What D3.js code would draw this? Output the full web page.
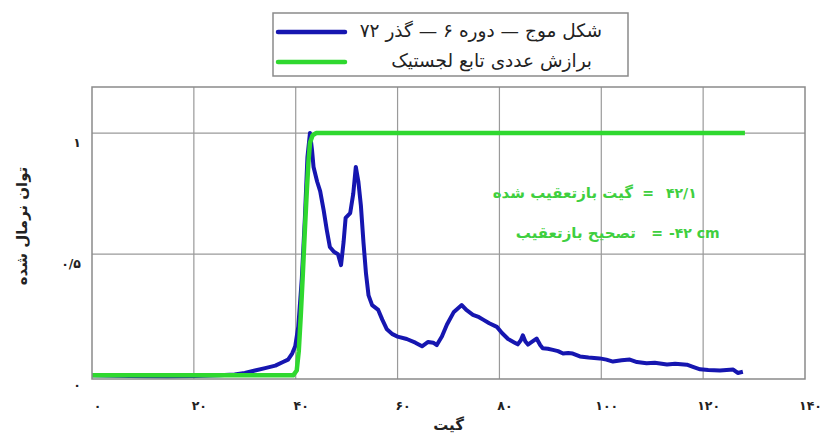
<!DOCTYPE html>
<html><head><meta charset="utf-8">
<script src="https://cdn.jsdelivr.net/npm/d3@7"></script>
<style>
html,body{margin:0;padding:0;background:#fff;}
svg{display:block;}
text{font-family:"DejaVu Sans",sans-serif;}
</style></head>
<body>
<script>
// ---- data ----
const waveX = [0,5,10,15,20,25,28,30,32,34,36,37.5,38.5,39.3,39.9,40.5,41.2,41.8,42.3,42.8,43.2,43.5,44.2,44.8,45.5,46.1,46.7,47.5,48.3,48.9,49.4,49.8,50.7,51.3,51.8,52.3,52.8,53.3,53.8,54.3,55,56.2,57,57.9,59,60,61.8,63.5,64.8,66,67,67.7,68.7,69.7,71,72.6,73.5,74.8,76,76.8,78,79.5,80.5,81.7,83,83.6,84.2,84.6,85.1,85.6,86.5,87.3,88,88.5,89.5,90.5,91.5,92.5,93.5,94.4,95.8,97.5,99.7,101,102.3,104,105.6,107,108.9,110.5,112.9,114.5,116.8,118,119.4,121,123.3,125.9,126.8,127.8];
const waveY = [0,-0.002,-0.004,-0.005,-0.003,0,0.004,0.01,0.02,0.03,0.04,0.055,0.065,0.09,0.12,0.2,0.4,0.65,0.9,1.0,0.93,0.86,0.8,0.76,0.68,0.6,0.53,0.51,0.5,0.455,0.55,0.65,0.67,0.75,0.86,0.8,0.7,0.55,0.42,0.33,0.29,0.27,0.23,0.19,0.17,0.16,0.15,0.135,0.12,0.138,0.135,0.125,0.16,0.21,0.26,0.29,0.27,0.25,0.24,0.23,0.215,0.2,0.175,0.15,0.135,0.128,0.145,0.165,0.14,0.127,0.14,0.152,0.125,0.112,0.11,0.105,0.1,0.09,0.092,0.09,0.078,0.074,0.07,0.065,0.057,0.062,0.065,0.055,0.05,0.052,0.045,0.048,0.044,0.035,0.025,0.022,0.02,0.024,0.01,0.015];
const fitX = [0,39.5,40.2,40.6,41.0,41.4,41.8,42.2,42.5,42.8,43.3,44,128.2];
const fitY = [0,0,0.02,0.1,0.25,0.42,0.6,0.77,0.88,0.96,0.99,1,1];
const xTicks = [0,20,40,60,80,100,120,140];
const xTickLabels = ["۰","۲۰","۴۰","۶۰","۸۰","۱۰۰","۱۲۰","۱۴۰"];
const yTicks = [0,0.5,1];
const yTickLabels = ["۰","۰/۵","۱"];
const seriesNames = ["شکل موج — دوره ۶ — گذر ۷۲","برازش عددی تابع لجستیک"];
const xTitle = "گیت";
const yTitle = "توان نرمال شده";
const note1 = ["گیت بازتعقیب شده","=","۴۲/۱"];
const note2 = ["تصحیح بازتعقیب","=","-۴۲ cm"];

// ---- layout ----
const W = 828, H = 437;
const L = 92, R = 805, T = 87, B = 379;
const blue = "#1616b0", green = "#2fd82f", noteGreen = "#3fcf3f";

const svg = d3.select("body").append("svg").attr("width", W).attr("height", H);
const x = d3.scaleLinear().domain([0,140]).range([L,R]);
const y = d3.scaleLinear().domain([-0.015,1.19]).range([B,T]);

// grid
const g = svg.append("g");
g.selectAll("line.vg").data(xTicks.filter(d=>d>0 && d<140)).enter().append("line")
  .attr("x1",d=>x(d)).attr("x2",d=>x(d)).attr("y1",T).attr("y2",B)
  .attr("stroke","#9a9a9a").attr("stroke-width",1.2);
g.selectAll("line.hg").data(yTicks.filter(d=>d>0)).enter().append("line")
  .attr("x1",L).attr("x2",R).attr("y1",d=>y(d)).attr("y2",d=>y(d))
  .attr("stroke","#9a9a9a").attr("stroke-width",1.2);

// axes (labels only; offsets mimic reference)
const xAxis = d3.axisBottom(x).tickValues(xTicks).tickSize(0).tickFormat((d,i)=>xTickLabels[i]);
const xg = svg.append("g").attr("transform",`translate(5,${B+24})`).call(xAxis);
xg.select(".domain").remove();
xg.selectAll("text").attr("font-size",12.5).attr("font-weight","bold").attr("fill","#222").attr("dy","0.3em");
const yAxis = d3.axisLeft(y).tickValues(yTicks).tickSize(0).tickFormat((d,i)=>yTickLabels[i]);
const yg = svg.append("g").attr("transform",`translate(${L-8},9)`).call(yAxis);
yg.select(".domain").remove();
yg.selectAll("text").attr("font-size",12.5).attr("font-weight","bold").attr("fill","#222");

// lines
const line = d3.line().x(d=>x(d[0])).y(d=>y(d[1]));
svg.append("path").datum(waveX.map((v,i)=>[v,waveY[i]]))
  .attr("d",line).attr("fill","none").attr("stroke",blue).attr("stroke-width",4).attr("stroke-linejoin","round");
svg.append("path").datum(fitX.map((v,i)=>[v,fitY[i]]))
  .attr("d",line).attr("fill","none").attr("stroke",green).attr("stroke-width",4.5).attr("stroke-linejoin","round");

// frame
svg.append("rect").attr("x",L).attr("y",T).attr("width",R-L).attr("height",B-T)
  .attr("fill","none").attr("stroke","#8a8a8a").attr("stroke-width",1.5);

// titles
svg.append("text").attr("x",(L+R)/2).attr("y",430).attr("text-anchor","middle")
  .attr("font-size",15).attr("font-weight","bold").attr("fill","#222").text(xTitle);
svg.append("text").attr("transform","translate(27,226) rotate(-90)").attr("text-anchor","middle")
  .attr("font-size",15).attr("font-weight","bold").attr("fill","#222").text(yTitle);

// annotations
function note(parts, yy, xPersian, xEq, xNum){
  svg.append("text").attr("x",xPersian).attr("y",yy).attr("text-anchor","end")
    .attr("font-size",15).attr("font-weight","bold").attr("fill",noteGreen).text(parts[0]);
  svg.append("text").attr("x",xEq).attr("y",yy).attr("text-anchor","middle")
    .attr("font-size",14).attr("font-weight","bold").attr("fill",noteGreen).text(parts[1]);
  svg.append("text").attr("x",xNum).attr("y",yy).attr("text-anchor","start")
    .attr("font-size",14).attr("font-weight","bold").attr("fill",noteGreen).text(parts[2]);
}
note(note1, 198, 633, 648, 666);
note(note2, 238, 636, 657, 669);

// legend
const lg = svg.append("g");
lg.append("rect").attr("x",273).attr("y",13).attr("width",355).attr("height",63)
  .attr("fill","#fff").attr("stroke","#8a8a8a").attr("stroke-width",1.5);
[blue,green].forEach((c,i)=>{
  const yy = 32 + i*30;
  lg.append("line").attr("x1",278).attr("x2",345).attr("y1",yy).attr("y2",yy)
    .attr("stroke",c).attr("stroke-width",4.5).attr("stroke-linecap","round");
  lg.append("text").attr("x",i===0?602:592).attr("y",yy+5).attr("text-anchor","end")
    .attr("font-size",18.5).attr("fill","#222").text(seriesNames[i]);
});
</script>
</body></html>
